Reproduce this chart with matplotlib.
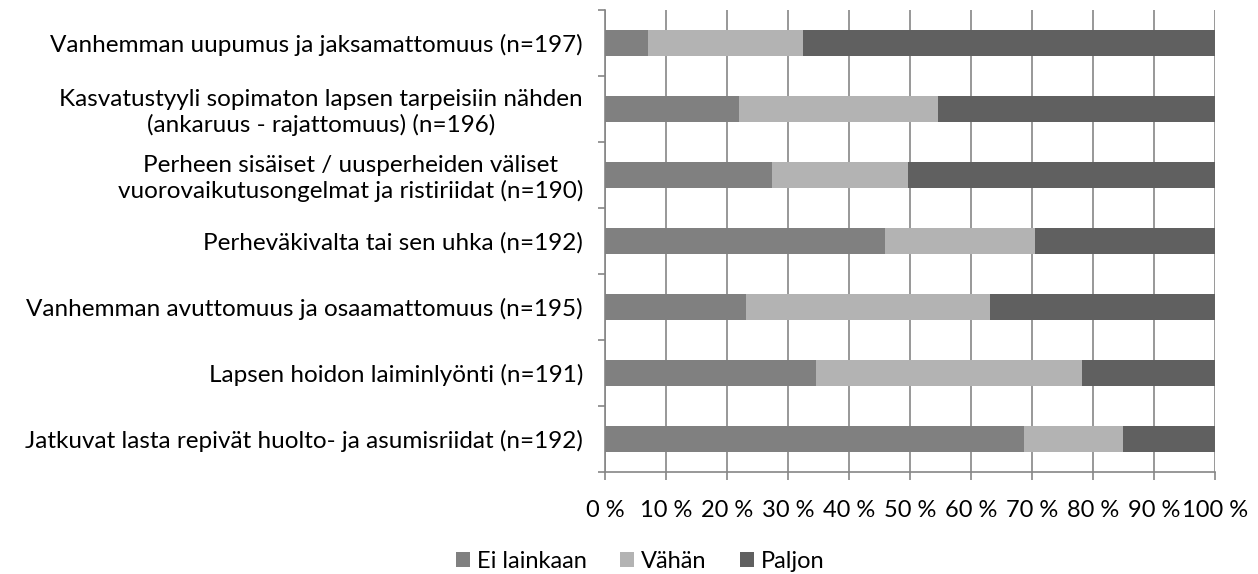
import numpy as np
import matplotlib
matplotlib.use("Agg")
import matplotlib.pyplot as plt
from matplotlib.ticker import MultipleLocator, FixedLocator

plt.rcParams["font.family"] = ["Lato", "DejaVu Sans"]

categories = [
    "Vanhemman uupumus ja jaksamattomuus (n=197)",
    "Kasvatustyyli sopimaton lapsen tarpeisiin nähden\n(ankaruus - rajattomuus) (n=196)",
    "Perheen sisäiset / uusperheiden väliset\nvuorovaikutusongelmat ja ristiriidat (n=190)",
    "Perheväkivalta tai sen uhka (n=192)",
    "Vanhemman avuttomuus ja osaamattomuus (n=195)",
    "Lapsen hoidon laiminlyönti (n=191)",
    "Jatkuvat lasta repivät huolto- ja asumisriidat (n=192)",
]
ei_lainkaan = [7.0, 21.9, 27.3, 45.8, 23.1, 34.6, 68.7]
vahan = [25.5, 32.7, 22.3, 24.6, 40.0, 43.5, 16.2]
paljon = [100 - a - b for a, b in zip(ei_lainkaan, vahan)]

series = [("Ei lainkaan", ei_lainkaan, "#808080"),
          ("Vähän", vahan, "#b3b3b3"),
          ("Paljon", paljon, "#606060")]

fig = plt.figure(figsize=(12.58, 5.74), dpi=100)
ax = fig.add_axes([0.481, 0.178, 0.485, 0.805])

y = np.arange(len(categories))
left = np.zeros(len(categories))
for name, vals, col in series:
    ax.barh(y, vals, left=left, height=0.4, color=col, label=name, zorder=3)
    left += np.array(vals)

ax.set_xlim(0, 100)
ax.set_ylim(len(categories) - 0.5, -0.5)
ax.xaxis.set_major_locator(MultipleLocator(10))
ax.set_xticklabels([f"{int(v)} %" for v in ax.get_xticks()])
ax.grid(axis="x", color="#868686", linewidth=1.2, zorder=0)

ax.set_yticks(y)
ax.set_yticklabels(categories, ha="right", multialignment="center")
ax.yaxis.set_minor_locator(FixedLocator(np.arange(-0.5, len(categories), 1.0)))
ax.tick_params(axis="y", which="major", length=0, pad=16, labelsize=17.5)
ax.tick_params(axis="y", which="minor", length=5, width=1.2, color="#868686", direction="out")
ax.tick_params(axis="x", length=6, width=1.2, color="#868686", direction="out",
               labelsize=17, pad=14)

for s in ["top", "right"]:
    ax.spines[s].set_visible(False)
for s in ["left", "bottom"]:
    ax.spines[s].set_color("#868686")
    ax.spines[s].set_linewidth(1.2)

fig.legend(loc="center", bbox_to_anchor=(0.509, 0.022), ncol=3, frameon=False,
           fontsize=17, handlelength=0.6, handleheight=0.6, handletextpad=0.3,
           columnspacing=1.4, borderpad=0)

fig.savefig("out.png", dpi=100)
